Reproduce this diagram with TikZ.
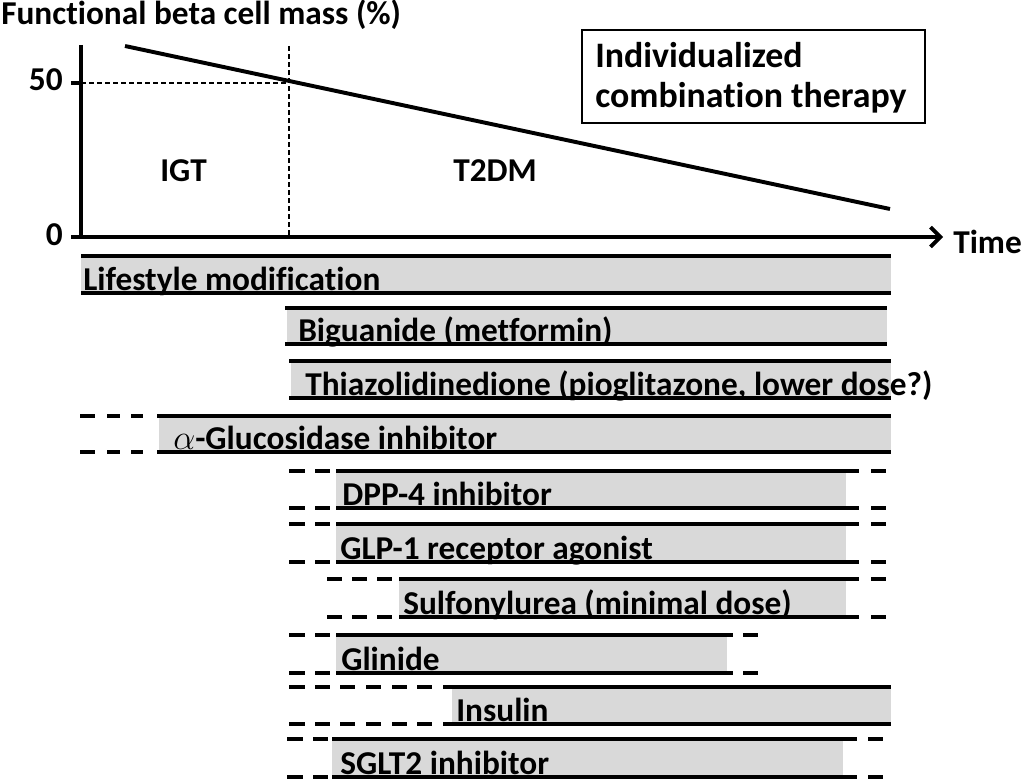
\documentclass[tikz,border=0pt]{standalone}
\usepackage{fontspec}
\setmainfont{Carlito}[Ligatures=NoCommon]
\usetikzlibrary{arrows.meta}
\definecolor{barfill}{HTML}{D9D9D9}
\begin{document}
\begin{tikzpicture}[
  x=0.025cm,y=-0.025cm,
  font=\fontsize{23.7}{28}\selectfont\bfseries,
  axis/.style={draw=black,line width=2.7pt},
  trend/.style={draw=black,line width=2.8pt},
  guide/.style={draw=black,line width=0.8pt,dash pattern=on 3.5pt off 2.2pt},
  frame/.style={draw=black,line width=1pt},
  edge/.style={draw=black,line width=2.2pt},
  shade/.style={draw=none,fill=barfill},
  lbl/.style={anchor=base west,inner sep=0pt},
  tick/.style={anchor=base east,inner sep=0pt},
  big/.style={font=\fontsize{25.5}{30}\selectfont\bfseries},
]
\useasboundingbox (0,0) rectangle (1024,782);

% axes and decline
\draw[axis] (81,45) -- (81,237);
\draw[axis,-{Straight Barb[length=7pt,width=14pt]}] (71,237) -- (943,237);
\draw[axis] (71,83) -- (81,83);
\draw[guide] (81,83) -- (289,83);
\draw[guide] (289,46) -- (289,237);
\draw[trend] (125,46) -- (890,209);
\node[lbl] (ttl) at (1,25) {Functional beta cell mass (\%)};
\node[tick] (fifty) at (63,91) {50};
\node[tick] (zero) at (63,245) {0};
\node[lbl] (igt) at (160,181) {IGT};
\node[lbl] (tdm) at (453,181) {T2DM};
\node[lbl] (time) at (953,253) {Time};
\draw[frame] (582,30) rectangle (925,123);
\node[lbl,big] (indiv) at (595,67) {Individualized};
\node[lbl,big] (combo) at (595,107) {combination therapy};

% lifestyle
\fill[shade] (81,256) rectangle (891,293);
\node[lbl] (life) at (83,290) {Lifestyle modification};
\draw[edge] (81,256) -- (891,256) (81,293) -- (891,293);
% biguanide
\fill[shade] (287,308) rectangle (887,344);
\node[lbl] (bigu) at (298,341) {Biguanide (metformin)};
\draw[edge] (285,308) -- (887,308) (285,344) -- (887,344);
% thiazolidinedione
\fill[shade] (291,361) rectangle (891,398);
\node[lbl] (thia) at (305,395) {Thiazolidinedione (pioglitazone, lower dose?)};
\draw[edge] (289,361) -- (891,361) (289,398) -- (891,398);
% alpha-glucosidase
\fill[shade] (159,416) rectangle (891,452);
\node[lbl] (agi) at (173,449) {$\alpha$-Glucosidase inhibitor};
\draw[edge] (80,416) -- (95,416) (107,416) -- (120,416) (131,416) -- (143,416) (157,416) -- (891,416);
\draw[edge] (80,452) -- (95,452) (107,452) -- (120,452) (131,452) -- (143,452) (157,452) -- (891,452);
% dpp-4
\fill[shade] (336,471) rectangle (846,508);
\node[lbl] (dpp) at (342,505) {DPP-4 inhibitor};
\draw[edge] (289,471) -- (305,471) (315,471) -- (330,471) (336,471) -- (859,471) (871,471) -- (886,471);
\draw[edge] (289,508) -- (305,508) (315,508) -- (330,508) (336,508) -- (859,508) (871,508) -- (886,508);
% glp-1
\fill[shade] (336,524) rectangle (846,562);
\node[lbl] (glp) at (340,559) {GLP-1 receptor agonist};
\draw[edge] (289,524) -- (305,524) (315,524) -- (330,524) (336,524) -- (859,524) (871,524) -- (886,524);
\draw[edge] (289,562) -- (305,562) (315,562) -- (330,562) (336,562) -- (859,562) (871,562) -- (886,562);
% sulfonylurea
\fill[shade] (399,579) rectangle (846,617);
\node[lbl] (sulf) at (403,614) {Sulfonylurea (minimal dose)};
\draw[edge] (327,579) -- (342,579) (352,579) -- (367,579) (377,579) -- (392,579) (399,579) -- (859,579) (871,579) -- (886,579);
\draw[edge] (327,617) -- (342,617) (352,617) -- (367,617) (377,617) -- (392,617) (399,617) -- (859,617) (871,617) -- (886,617);
% glinide
\fill[shade] (336,635) rectangle (727,673);
\node[lbl] (glin) at (341,670) {Glinide};
\draw[edge] (289,635) -- (305,635) (315,635) -- (330,635) (336,635) -- (733,635) (743,635) -- (758,635);
\draw[edge] (289,673) -- (305,673) (315,673) -- (330,673) (336,673) -- (733,673) (743,673) -- (758,673);
% insulin
\fill[shade] (452,687) rectangle (891,724);
\node[lbl] (ins) at (456,721) {Insulin};
\draw[edge] (289,687) -- (305,687) (315,687) -- (330,687) (340,687) -- (355,687) (366,687) -- (381,687) (392,687) -- (407,687) (417,687) -- (432,687) (443,687) -- (891,687);
\draw[edge] (289,724) -- (305,724) (315,724) -- (330,724) (340,724) -- (355,724) (366,724) -- (381,724) (392,724) -- (407,724) (417,724) -- (432,724) (443,724) -- (891,724);
% sglt2
\fill[shade] (332,739) rectangle (843,777);
\node[lbl] (sglt) at (340,774) {SGLT2 inhibitor};
\draw[edge] (287,739) -- (303,739) (313,739) -- (328,739) (332,739) -- (857,739) (868,739) -- (883,739);
\draw[edge] (287,777) -- (303,777) (313,777) -- (328,777) (332,777) -- (857,777) (868,777) -- (883,777);
\end{tikzpicture}
\end{document}
